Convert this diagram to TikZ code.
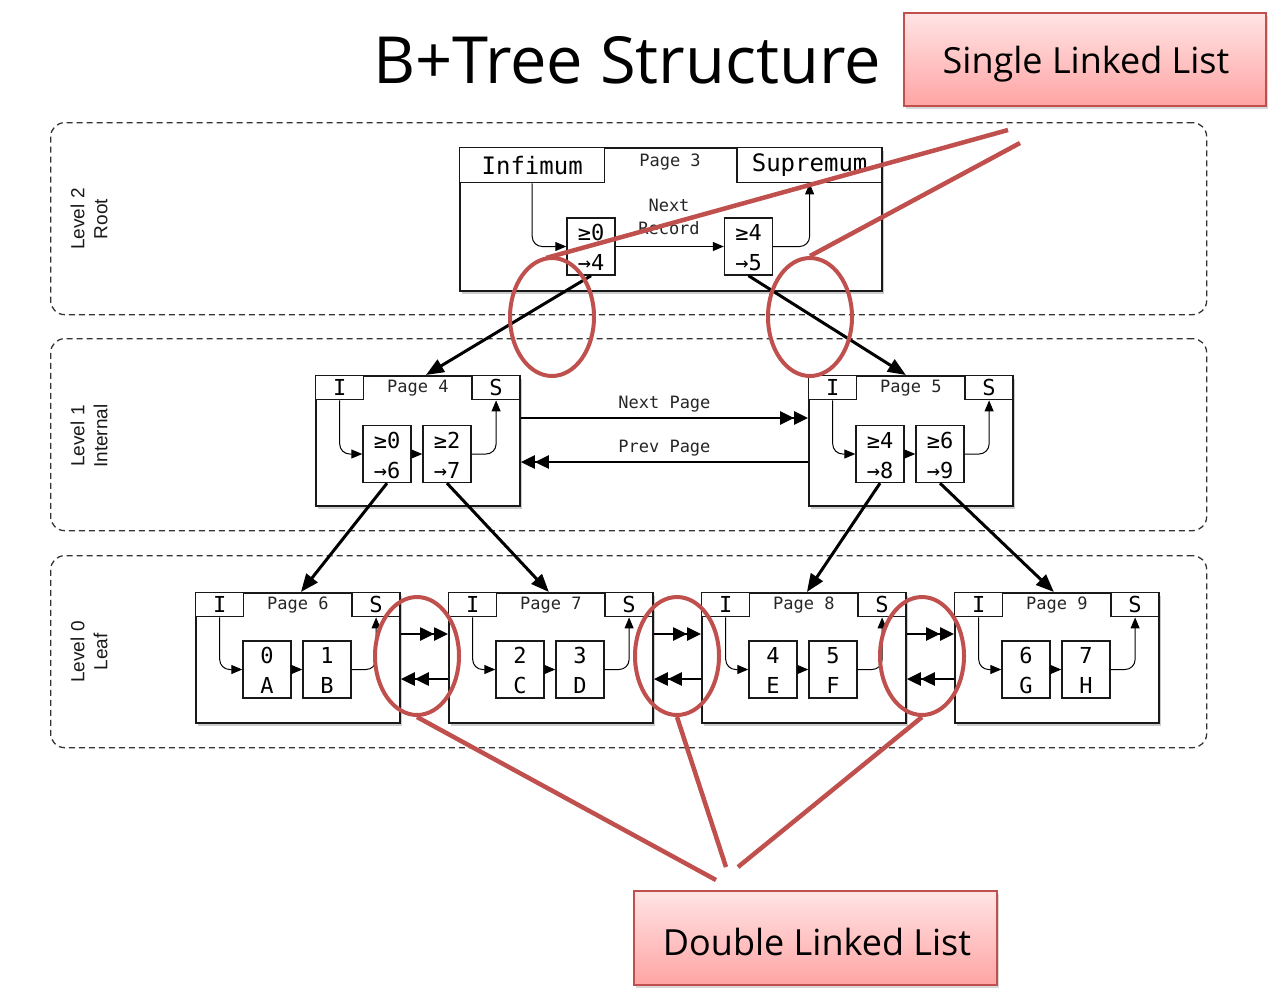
\documentclass[tikz,border=0pt]{standalone}
\usepackage{fontspec}
\usetikzlibrary{arrows.meta,shapes.geometric,shadows,calc}
\newfontfamily\monof{DejaVu Sans Mono}
\newfontfamily\titlef{Open Sans}
\newfontfamily\lvlf{Liberation Sans}
\definecolor{calred}{HTML}{C0504D}
\definecolor{pinktop}{HTML}{FFE4E4}
\definecolor{pinkbot}{HTML}{FFA4A4}
\tikzset{
  pg/.style={draw=black!90, line width=1.8pt, fill=white, rectangle, inner sep=0pt,
    drop shadow={opacity=0.4, shadow xshift=2pt, shadow yshift=-3pt}},
  hdr/.style={draw=black!90, line width=1.4pt, fill=white, minimum width=48pt, minimum height=24pt,
    inner sep=0pt, font=\monof\fontsize{22}{22}\selectfont},
  rec/.style={draw=black!90, line width=1.4pt, minimum width=48pt, minimum height=57pt, inner sep=0pt, fill=white},
  rectxt/.style={font=\monof\fontsize{22}{22}\selectfont, inner sep=0pt},
  pglbl/.style={font=\monof\fontsize{17}{17}\selectfont, text=black!85},
  treearrow/.style={line width=3pt, -{Triangle[length=18pt,width=14pt]}},
  inarrow/.style={line width=1pt, rounded corners=10pt, -{Triangle[length=11pt,width=9pt]}},
  dbl/.style={line width=2.6pt, -{Triangle[length=14pt,width=13pt]Triangle[length=14pt,width=13pt]}},
  lvl/.style={draw=black!80, line width=1.3pt, dash pattern=on 6pt off 4pt, rounded corners=14pt,
    minimum width=1156pt, minimum height=192pt, anchor=north west, inner sep=0pt},
  lvltxt/.style={rotate=90, align=center, font=\lvlf\fontsize{19}{23}\selectfont, text=black!90},
  ring/.style={ellipse, draw=calred, line width=4pt, minimum width=84pt, minimum height=118pt, inner sep=0pt},
  redline/.style={draw=calred, line width=4.5pt},
  callout/.style={draw=calred, line width=1.5pt, top color=pinktop, bottom color=pinkbot, inner sep=0pt,
    drop shadow={opacity=0.3, shadow xshift=2pt, shadow yshift=-3pt}},
  callouttxt/.style={font=\titlef\fontsize{36}{36}\selectfont, inner sep=0pt},
}
% name, x, y, page number, a-top, a-bottom, b-top, b-bottom, record y-centre offset
\newcommand{\bpage}[9]{%
  \node[pg, minimum width=204pt, minimum height=130pt, anchor=north west] (#1) at (#2,#3) {};
  \node[hdr, anchor=north west] (#1I) at (#1.north west) {I};
  \node[hdr, anchor=north east] (#1S) at (#1.north east) {S};
  \node[pglbl] (#1L) at ($(#1.north)+(0,13)$) {Page #4};
  \node[rec] (#1a) at ($(#1.north west)+(72,#9)$) {};
  \node[rec] (#1b) at ($(#1.north west)+(132,#9)$) {};
  \node[rectxt] (#1at) at ($(#1a.center)+(0,-14)$) {#5};
  \node[rectxt] (#1ab) at ($(#1a.center)+(0,16)$) {#6};
  \node[rectxt] (#1bt) at ($(#1b.center)+(0,-14)$) {#7};
  \node[rectxt] (#1bb) at ($(#1b.center)+(0,16)$) {#8};
  \draw[inarrow] (#1I.south) |- (#1a.west);
  \draw[inarrow] (#1a.east) -- (#1b.west);
  \draw[inarrow] (#1b.east) -| (#1S.south);
}
\begin{document}
\begin{tikzpicture}[x=1pt,y=-1pt]
\fill[white] (0,0) rectangle (1276,997);
\useasboundingbox (0,0) rectangle (1276,997);

% title
\node[font=\titlef\fontsize{65}{65}\selectfont] (title) at (627,60) {B+Tree Structure};

% level frames
\node[lvl] (L2) at (50,122) {};
\node[lvl] (L1) at (50,338) {};
\node[lvl] (L0) at (50,555) {};
\node[lvltxt] (L2t) at (89,219) {Level 2\\Root};
\node[lvltxt] (L1t) at (89,436) {Level 1\\Internal};
\node[lvltxt] (L0t) at (89,652) {Level 0\\Leaf};

% root page
\node[pg, minimum width=422pt, minimum height=143pt, anchor=north west] (p3) at (459,147) {};
\node[hdr, minimum width=145pt, minimum height=35pt, anchor=north west, font=\monof\fontsize{24}{24}\selectfont] (p3I) at (p3.north west) {Infimum};
\node[hdr, minimum width=145pt, minimum height=35pt, anchor=north east, font=\monof\fontsize{24}{24}\selectfont] (p3S) at (p3.north east) {Supremum};
\node[pglbl] (p3L) at (670,162) {Page 3};
\node[rec] (p3a) at (591,246.5) {};
\node[rec] (p3b) at (748.5,246.5) {};
\node[rectxt] (p3at) at ($(p3a.center)+(0,-14)$) {≥0};
\node[rectxt] (p3ab) at ($(p3a.center)+(0,16)$) {→4};
\node[rectxt] (p3bt) at ($(p3b.center)+(0,-14)$) {≥4};
\node[rectxt] (p3bb) at ($(p3b.center)+(0,16)$) {→5};
\node[pglbl, align=center, font=\monof\fontsize{17}{23}\selectfont] (p3nr) at (669,217) {Next\\Record};
\draw[inarrow] (p3I.south) |- (p3a.west);
\draw[inarrow] (p3a.east) -- (p3b.west);
\draw[inarrow] (p3b.east) -| (p3S.south);

% internal pages
\bpage{p4}{315}{375}{4}{≥0}{→6}{≥2}{→7}{79}
\bpage{p5}{808}{375}{5}{≥4}{→8}{≥6}{→9}{79}

% leaf pages
\bpage{p6}{195}{592}{6}{0}{A}{1}{B}{77.5}
\bpage{p7}{448}{592}{7}{2}{C}{3}{D}{77.5}
\bpage{p8}{701}{592}{8}{4}{E}{5}{F}{77.5}
\bpage{p9}{954}{592}{9}{6}{G}{7}{H}{77.5}

% tree pointers
\draw[treearrow] (p3a.south) -- ($(p4.north)+(8,0)$);
\draw[treearrow] (p3b.south) -- ($(p5.north)+(-5,0)$);
\draw[treearrow] (p4a.south) -- ($(p6.north)+(3,0)$);
\draw[treearrow] (p4b.south) -- ($(p7.north)+(-2,0)$);
\draw[treearrow] (p5a.south) -- ($(p8.north)+(3,0)$);
\draw[treearrow] (p5b.south) -- ($(p9.north)+(-3,0)$);

% level-1 sibling links
\draw[dbl] ($(p4.north east)+(0,43)$) -- node[pglbl, above=1pt] (np) {Next Page} ($(p5.north west)+(0,43)$);
\draw[dbl] ($(p5.north west)+(0,87)$) -- node[pglbl, above=1pt] (pp) {Prev Page} ($(p4.north east)+(0,87)$);

% leaf sibling links
\draw[dbl] ($(p6.north east)+(0,42)$) -- ($(p7.north west)+(0,42)$);
\draw[dbl] ($(p7.north west)+(0,87)$) -- ($(p6.north east)+(0,87)$);
\draw[dbl] ($(p7.north east)+(0,42)$) -- ($(p8.north west)+(0,42)$);
\draw[dbl] ($(p8.north west)+(0,87)$) -- ($(p7.north east)+(0,87)$);
\draw[dbl] ($(p8.north east)+(0,42)$) -- ($(p9.north west)+(0,42)$);
\draw[dbl] ($(p9.north west)+(0,87)$) -- ($(p8.north east)+(0,87)$);

% red annotations
\node[ring] (e1) at (552,317) {};
\node[ring] (e2) at (810,317) {};
\node[ring] (e3) at (417,656) {};
\node[ring] (e4) at (677,656) {};
\node[ring] (e5) at (922,656) {};
\coordinate (s1) at (1008,130);
\coordinate (s2) at (1020,143);
\coordinate (d1) at (716,880);
\coordinate (d2) at (726,867);
\coordinate (d3) at (738,867);
\draw[redline] (s1) -- ($(e1.north)+(-6,2)$);
\draw[redline] (s2) -- (e2.north);
\draw[redline] (e3.south) -- (d1);
\draw[redline] (e4.south) -- (d2);
\draw[redline] (e5.south) -- (d3);

% callouts
\node[callout, minimum width=362pt, minimum height=93pt] (sll) at (1085,59.5) {};
\node[callouttxt] (sllt) at (1086,64) {Single Linked List};
\node[callout, minimum width=363pt, minimum height=94pt] (dll) at (815.5,938) {};
\node[callouttxt] (dllt) at (817,942) {Double Linked List};
\end{tikzpicture}
\end{document}
